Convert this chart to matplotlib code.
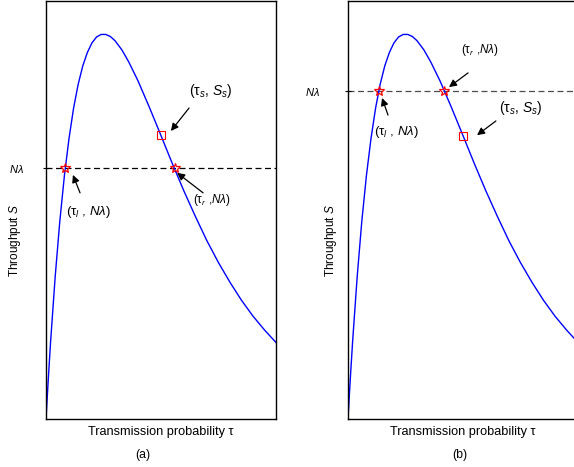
import matplotlib
matplotlib.use("Agg")
import matplotlib.pyplot as plt

plt.rcParams['font.family'] = ['Liberation Sans', 'DejaVu Sans']
plt.rcParams['mathtext.fontset'] = 'custom'
plt.rcParams['mathtext.rm'] = 'Liberation Sans'
plt.rcParams['mathtext.it'] = 'Liberation Sans:italic'
plt.rcParams['mathtext.fallback'] = 'cm'

# Throughput curve (normalised units)
tau = [0.0, 0.01, 0.02, 0.04, 0.06, 0.08, 0.10, 0.12, 0.14, 0.16, 0.18, 0.20,
       0.22, 0.24, 0.26, 0.28, 0.30, 0.33, 0.36, 0.40, 0.45, 0.50, 0.55, 0.60,
       0.65, 0.70, 0.75, 0.80, 0.85, 0.90, 0.95, 1.00]
S = [0.000, 0.096, 0.185, 0.341, 0.473, 0.582, 0.671, 0.744, 0.801, 0.845,
     0.877, 0.900, 0.914, 0.920, 0.920, 0.915, 0.905, 0.883, 0.854, 0.809,
     0.745, 0.678, 0.610, 0.545, 0.484, 0.426, 0.374, 0.327, 0.284, 0.246,
     0.213, 0.183]

# Panel (a)
a_Nlambda = 0.600
a_tau_l, a_tau_r = 0.083, 0.561
a_tau_s, a_S_s = 0.500, 0.679
# Panel (b)
b_Nlambda = 0.785
b_tau_l, b_tau_r = 0.136, 0.416
b_tau_s, b_S_s = 0.499, 0.677

W, H = 574, 467
fig = plt.figure(figsize=(W / 100, H / 100), dpi=100)

def px_axes(x0, y_top, w, h):
    return fig.add_axes([x0 / W, 1 - (y_top + h) / H, w / W, h / H])

axA = px_axes(46, 1, 230, 418)
axB = px_axes(348, 1, 230, 418)

def arrow(ax, tail, head):
    ax.annotate('', xy=head, xytext=tail,
                arrowprops=dict(arrowstyle='-|>', color='k', lw=0.9,
                                mutation_scale=11, shrinkA=0, shrinkB=0))

def panel(ax, Nl, tl, tr, ts, Ss, dcolor, pad):
    ax.plot(tau, S, color='blue', lw=1.0, zorder=2)
    ax.axhline(Nl, color=dcolor, lw=0.9, dashes=(4.8, 2.8), zorder=1)
    ax.plot([tl, tr], [Nl, Nl], linestyle='none', marker='*', ms=7.5,
            mfc='none', mec='red', mew=0.9, zorder=3)
    ax.plot([ts], [Ss], linestyle='none', marker='s', ms=5.5,
            mfc='none', mec='red', mew=0.8, zorder=3)
    ax.set_xlim(0, 1)
    ax.set_ylim(0, 1)
    ax.set_xticks([])
    ax.set_yticks([Nl])
    ax.set_yticklabels([r'$N\lambda$'], fontsize=8)
    ax.tick_params(axis='y', direction='inout', length=4, width=0.8, pad=pad)
    for sp in ax.spines.values():
        sp.set_linewidth(1.0)
    ax.set_xlabel('Transmission probability τ', fontsize=9.2, labelpad=5)

panel(axA, a_Nlambda, a_tau_l, a_tau_r, a_tau_s, a_S_s, 'k', 14)
panel(axB, b_Nlambda, b_tau_l, b_tau_r, b_tau_s, b_S_s, '0.3', 18)

fig.text(15 / W, 1 - 240 / H, 'Throughput $S$', fontsize=8.5, rotation=90,
         ha='center', va='center')
fig.text(331 / W, 1 - 240 / H, 'Throughput $S$', fontsize=8.5, rotation=90,
         ha='center', va='center')

# Annotations panel (a)
axA.text(0.717, 0.785, r'(τ$_s$, $S_s$)', fontsize=10, ha='center', va='center')
arrow(axA, (0.622, 0.744), (0.543, 0.689))
axA.text(0.183, 0.495, r'(τ$_l$ , $N\lambda$)', fontsize=9.5, ha='center', va='center')
arrow(axA, (0.148, 0.541), (0.117, 0.584))
axA.text(0.722, 0.524, r'(τ$_r$ ,$N\lambda$)', fontsize=8.5, ha='center', va='center')
arrow(axA, (0.683, 0.541), (0.570, 0.589))

# Annotations panel (b)
axB.text(0.574, 0.883, r'(τ$_r$ ,$N\lambda$)', fontsize=8.5, ha='center', va='center')
arrow(axB, (0.522, 0.828), (0.439, 0.794))
axB.text(0.209, 0.687, r'(τ$_l$ , $N\lambda$)', fontsize=9.5, ha='center', va='center')
arrow(axB, (0.174, 0.727), (0.148, 0.768))
axB.text(0.752, 0.744, r'(τ$_s$, $S_s$)', fontsize=10, ha='center', va='center')
arrow(axB, (0.643, 0.713), (0.561, 0.679))

fig.text(143 / W, 1 - 455 / H, '(a)', fontsize=8.8, ha='center', va='center')
fig.text(460 / W, 1 - 455 / H, '(b)', fontsize=8.8, ha='center', va='center')

fig.savefig('out.png', dpi=100)
